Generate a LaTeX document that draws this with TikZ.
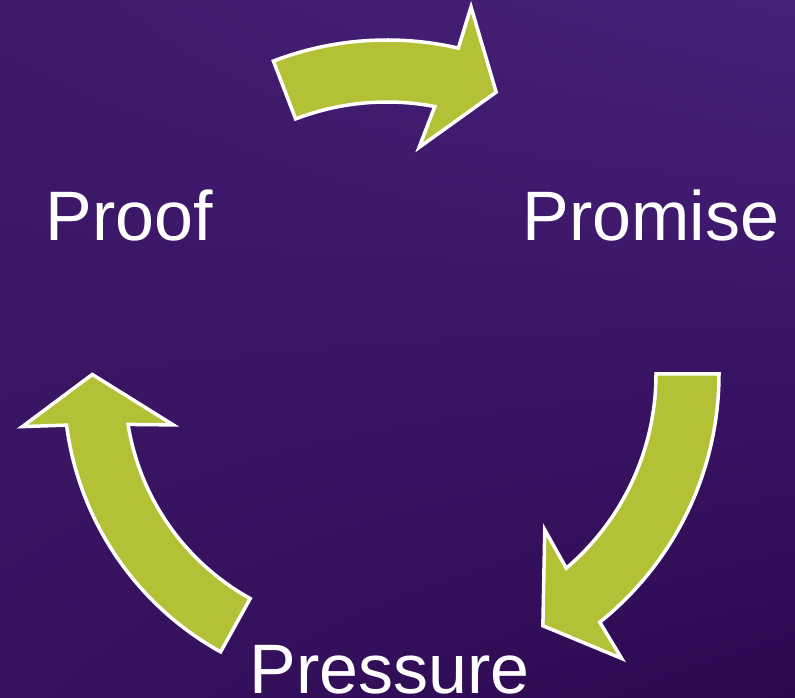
\documentclass[tikz,border=0pt]{standalone}
\usepackage{fontspec}
\setmainfont{Liberation Sans}
\usetikzlibrary{shadings}
\definecolor{arrowfill}{HTML}{B4C036}
\definecolor{bgUL}{HTML}{3F1A6B}
\definecolor{bgUR}{HTML}{46217B}
\definecolor{bgLL}{HTML}{37125F}
\definecolor{bgLR}{HTML}{2D0850}
\begin{document}
\begin{tikzpicture}[x=1pt,y=1pt,
  arrowshape/.style={fill=arrowfill, draw=white, line width=3.5pt, line join=miter},
  wordstyle/.style={text=white, font=\fontsize{70}{84}\selectfont, inner sep=0pt, anchor=base, text depth=0pt}]
\useasboundingbox (0,0) rectangle (795,698);
\shade[upper left=bgUL, upper right=bgUR, lower left=bgLL, lower right=bgLR] (0,0) rectangle (795,698);
% top arrow
\begin{scope}[shift={(387,341)}]
\draw[arrowshape] (111:317pt) arc[start angle=111, end angle=77, radius=317pt]
  -- (76.5:360pt) -- (67.6:286.5pt) -- (81.3:212pt) -- (79.2:255pt)
  arc[start angle=79.2, end angle=111, radius=255pt] -- cycle;
\end{scope}
% right arrow
\begin{scope}[shift={(401,324)}]
\draw[arrowshape] (0:318pt) arc[start angle=0, end angle=-51.3, radius=318pt]
  -- (-52.2:360pt) -- (-60.6:289pt) -- (-47.3:212pt) -- (-49.6:255pt)
  arc[start angle=-49.6, end angle=0, radius=255pt] -- cycle;
\end{scope}
% left arrow
\begin{scope}[shift={(368,312)}]
\draw[arrowshape] (241:304pt) arc[start angle=241, end angle=187.4, radius=304pt]
  -- (186.7:348pt) -- (177.6:276pt) -- (191.3:198.6pt) -- (189.1:243pt)
  arc[start angle=189.1, end angle=241, radius=243pt] -- cycle;
\end{scope}
\node[wordstyle] (proof) at (129,457) {Proof};
\node[wordstyle] (promise) at (651,457) {Promise};
\node[wordstyle] (pressure) at (389.5,4.5) {Pressure};
\end{tikzpicture}
\end{document}
